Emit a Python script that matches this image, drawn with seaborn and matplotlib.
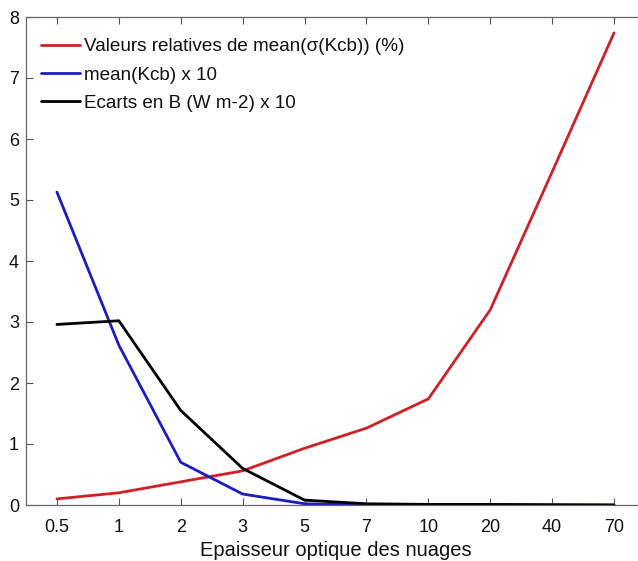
import matplotlib
matplotlib.use("Agg")
import matplotlib.pyplot as plt
import seaborn as sns
import pandas as pd

sns.set_theme(style="white")
plt.rcParams["font.family"] = ["Liberation Sans", "DejaVu Sans"]
plt.rcParams["text.color"] = "#111111"
plt.rcParams["axes.labelcolor"] = "#111111"
plt.rcParams["xtick.labelcolor"] = "#111111"
plt.rcParams["ytick.labelcolor"] = "#111111"

# Cloud optical thickness categories (equally spaced on the x axis)
categories = ["0.5", "1", "2", "3", "5", "7", "10", "20", "40", "70"]

rel_sigma_kcb = [0.10, 0.20, 0.38, 0.56, 0.93, 1.26, 1.74, 3.20, 5.46, 7.74]
mean_kcb_x10 = [5.13, 2.62, 0.70, 0.18, 0.02, 0.0, 0.0, 0.0, 0.0, 0.0]
ecarts_b_x10 = [2.96, 3.02, 1.55, 0.60, 0.08, 0.02, 0.01, 0.01, 0.005, 0.0]

series_names = [
    "Valeurs relatives de mean(σ(Kcb)) (%)",
    "mean(Kcb) x 10",
    "Ecarts en B (W m-2) x 10",
]
series_values = [rel_sigma_kcb, mean_kcb_x10, ecarts_b_x10]
colors = ["#d11f26", "#1c1cc0", "#000000"]

frames = []
for name, vals in zip(series_names, series_values):
    frames.append(pd.DataFrame({"pos": range(len(categories)), "value": vals, "serie": name}))
df = pd.concat(frames, ignore_index=True)

fig = plt.figure(figsize=(6.38, 5.61), dpi=100)
ax = fig.add_axes([26 / 638, 56 / 561, 619 / 638, 488 / 561])

sns.lineplot(data=df, x="pos", y="value", hue="serie", palette=colors,
             hue_order=series_names, linewidth=2.0, ax=ax, legend=True)

ax.set_xlim(-0.5, 9.5)
ax.set_ylim(0, 8)
ax.set_xticks(range(len(categories)))
ax.set_xticklabels(categories)
ax.set_yticks(range(0, 9))
ax.set_xlabel("Epaisseur optique des nuages", fontsize=14.5, labelpad=4)
ax.set_ylabel("")

ax.tick_params(axis="both", direction="in", length=5, width=0.8, color="#555555",
               labelsize=13, top=True, right=True, bottom=True, left=True)
ax.tick_params(axis="x", pad=10)
ax.tick_params(axis="y", pad=5)
for side in ["top", "bottom", "left", "right"]:
    ax.spines[side].set_color("#666666")
    ax.spines[side].set_linewidth(0.9)

leg = ax.legend(loc="upper left", frameon=False, fontsize=13.6,
                handlelength=2.05, handletextpad=0.25, labelspacing=0.58,
                borderaxespad=0.0, bbox_to_anchor=(0.012, 0.972))
for line in leg.get_lines():
    line.set_linewidth(2.0)

fig.savefig("out.png", dpi=100)
